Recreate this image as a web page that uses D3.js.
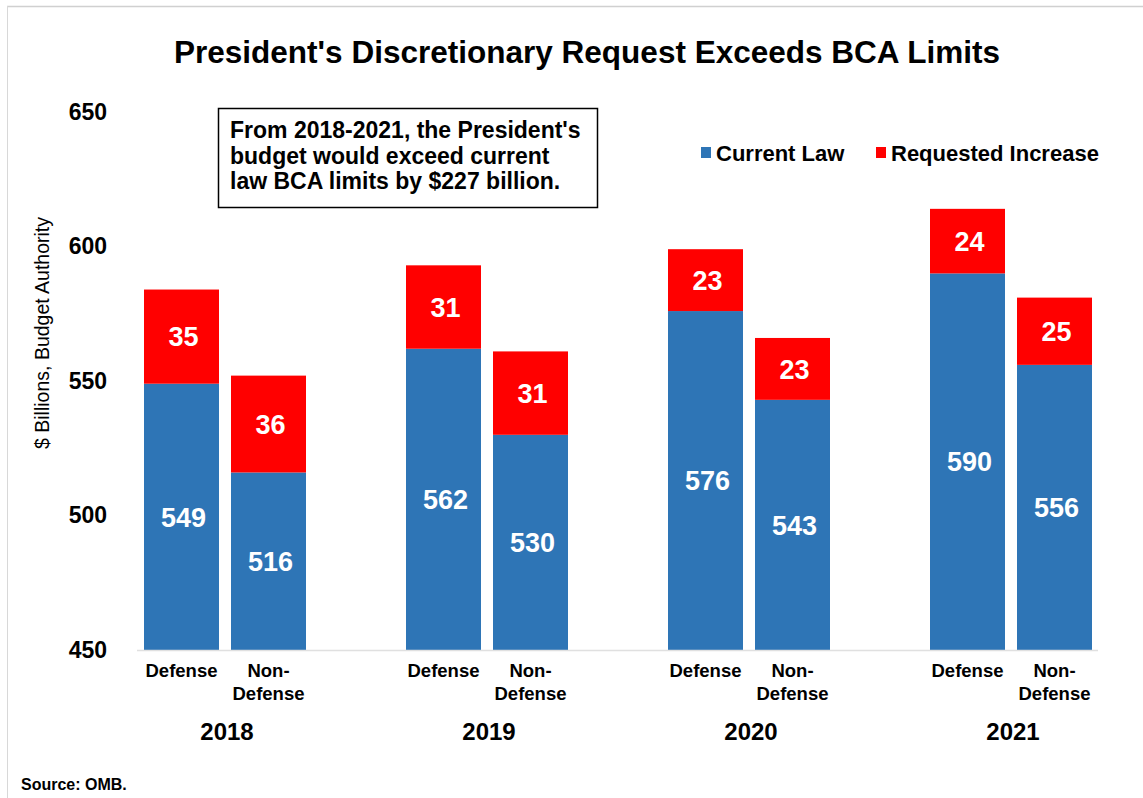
<!DOCTYPE html>
<html>
<head>
<meta charset="utf-8">
<script src="https://cdn.jsdelivr.net/npm/d3@7"></script>
<style>
  body { margin: 0; background: #fff; }
  svg { display: block; font-family: "Liberation Sans", Arial, sans-serif; }
</style>
</head>
<body>
<svg id="chart" width="1143" height="798"></svg>
<script>
const years = ['2018', '2019', '2020', '2021'];
const types = ['Defense', 'Non-Defense'];
const currentLaw = [549, 516, 562, 530, 576, 543, 590, 556];
const requestedIncrease = [35, 36, 31, 31, 23, 23, 24, 25];
const yTicks = [450, 500, 550, 600, 650];
const seriesNames = ['Current Law', 'Requested Increase'];
const seriesColors = ['#2E75B6', '#FF0000'];

const rows = [];
years.forEach((yr, i) => {
  types.forEach((t, j) => {
    const k = i * 2 + j;
    rows.push({year: yr, type: t, base: currentLaw[k], inc: requestedIncrease[k]});
  });
});

const svg = d3.select('#chart');

// frame lines at top / left
svg.append('line').attr('x1', 7).attr('x2', 1143).attr('y1', 6.5).attr('y2', 6.5)
  .attr('stroke', '#d0d0d0').attr('stroke-width', 1.5);
svg.append('line').attr('x1', 7.5).attr('x2', 7.5).attr('y1', 6).attr('y2', 798)
  .attr('stroke', '#d8d8d8').attr('stroke-width', 1);

const y = d3.scaleLinear().domain([450, 650]).range([650, 112]);
const x0 = d3.scaleBand().domain(years).range([94, 1142]);
const x1 = d3.scaleBand().domain(types).range([50, 212]).paddingInner(0.138);

// title
svg.append('text')
  .attr('x', 587).attr('y', 63)
  .attr('text-anchor', 'middle')
  .attr('font-size', 31).attr('font-weight', 'bold')
  .attr('textLength', 826).attr('lengthAdjust', 'spacingAndGlyphs')
  .text("President's Discretionary Request Exceeds BCA Limits");

// y axis
const yAxis = svg.append('g').attr('transform', 'translate(107,0)')
  .call(d3.axisLeft(y).tickValues(yTicks).tickSize(0).tickPadding(0));
yAxis.select('.domain').remove();
yAxis.selectAll('text')
  .attr('font-family', '"Liberation Sans", Arial, sans-serif')
  .attr('font-size', 23).attr('font-weight', 'bold').attr('fill', '#000');

svg.append('text')
  .attr('transform', 'translate(49,333) rotate(-90)')
  .attr('text-anchor', 'middle')
  .attr('font-size', 19.5).attr('fill', '#000')
  .text('$ Billions, Budget Authority');

// bars
const g = svg.append('g');
const bar = g.selectAll('g.bar').data(rows).enter().append('g')
  .attr('class', 'bar')
  .attr('transform', d => `translate(${x0(d.year) + x1(d.type)},0)`);

bar.append('rect')
  .attr('x', 0).attr('width', x1.bandwidth())
  .attr('y', d => y(d.base))
  .attr('height', d => y(450) - y(d.base))
  .attr('fill', seriesColors[0]);

bar.append('rect')
  .attr('x', 0).attr('width', x1.bandwidth())
  .attr('y', d => y(d.base + d.inc))
  .attr('height', d => y(d.base) - y(d.base + d.inc))
  .attr('fill', seriesColors[1]);

bar.append('text')
  .attr('x', x1.bandwidth() / 2 + 2)
  .attr('y', d => y((450 + d.base) / 2))
  .attr('dy', '0.36em')
  .attr('text-anchor', 'middle')
  .attr('font-size', 27).attr('font-weight', 'bold').attr('fill', '#fff')
  .text(d => d.base);

bar.append('text')
  .attr('x', x1.bandwidth() / 2 + 2)
  .attr('y', d => y(d.base + d.inc / 2))
  .attr('dy', '0.36em')
  .attr('text-anchor', 'middle')
  .attr('font-size', 27).attr('font-weight', 'bold').attr('fill', '#fff')
  .text(d => d.inc);

// baseline
svg.append('line')
  .attr('x1', 137).attr('x2', 1098)
  .attr('y1', y(450) + 0.5).attr('y2', y(450) + 0.5)
  .attr('stroke', '#e0e0e0').attr('stroke-width', 1.5);

// category labels
bar.each(function(d) {
  const t = d3.select(this).append('text')
    .attr('x', x1.bandwidth() / 2)
    .attr('text-anchor', 'middle')
    .attr('font-size', 18.5).attr('font-weight', 'bold').attr('fill', '#000');
  if (d.type === 'Defense') {
    t.append('tspan').attr('x', x1.bandwidth() / 2).attr('y', 677).text('Defense');
  } else {
    t.append('tspan').attr('x', x1.bandwidth() / 2).attr('y', 677).text('Non-');
    t.append('tspan').attr('x', x1.bandwidth() / 2).attr('y', 700).text('Defense');
  }
});

// year labels
svg.selectAll('text.year').data(years).enter().append('text')
  .attr('class', 'year')
  .attr('x', d => x0(d) + x0.bandwidth() / 2 + 2)
  .attr('y', 740)
  .attr('text-anchor', 'middle')
  .attr('font-size', 24).attr('font-weight', 'bold').attr('fill', '#000')
  .text(d => d);

// legend
const legendX = [701, 876];
const legend = svg.selectAll('g.legend').data(seriesNames).enter().append('g')
  .attr('class', 'legend')
  .attr('transform', (d, i) => `translate(${legendX[i]},147)`);
legend.append('rect').attr('width', 10).attr('height', 11)
  .attr('fill', (d, i) => seriesColors[i]);
legend.append('text').attr('x', 15).attr('y', 14)
  .attr('font-size', 22).attr('font-weight', 'bold').attr('fill', '#000')
  .text(d => d);

// annotation box
svg.append('rect')
  .attr('x', 218.5).attr('y', 108.5).attr('width', 379).attr('height', 99)
  .attr('fill', '#fff').attr('stroke', '#000').attr('stroke-width', 1.5);
const note = ["From 2018-2021, the President's", 'budget would exceed current', 'law BCA limits by $227 billion.'];
svg.append('text')
  .attr('font-size', 23).attr('font-weight', 'bold').attr('fill', '#000')
  .selectAll('tspan').data(note).enter().append('tspan')
  .attr('x', 230).attr('y', (d, i) => 138 + i * 25.5)
  .text(d => d);

// source
svg.append('text')
  .attr('x', 21).attr('y', 790)
  .attr('font-size', 16).attr('font-weight', 'bold').attr('fill', '#000')
  .text('Source: OMB.');
</script>
</body>
</html>
